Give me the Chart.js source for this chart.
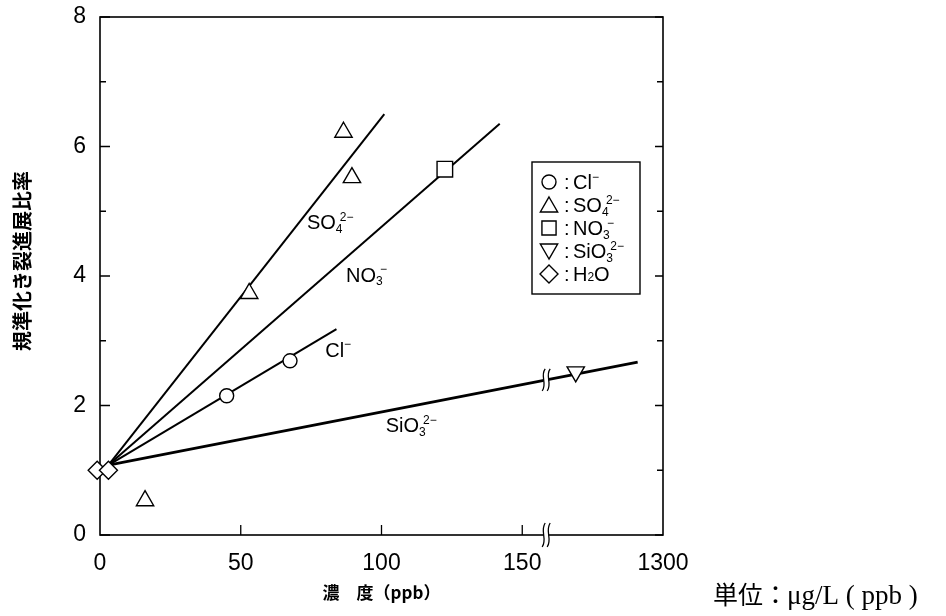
<!DOCTYPE html>
<html>
<head>
<meta charset="utf-8">
<script src="https://cdn.jsdelivr.net/npm/chart.js@4/dist/chart.umd.min.js"></script>
<style>
  html, body { margin: 0; padding: 0; background: #fff; }
</style>
</head>
<body>
<canvas id="crackChart" width="946" height="616"></canvas>
<script>
// measured points
const clX = [45, 67.5], clY = [2.15, 2.69];
const so4X = [16, 53, 86.5, 89.5], so4Y = [0.53, 3.73, 6.22, 5.52];
const no3X = [122.5], no3Y = [5.65];
const sio3X = [169], sio3Y = [2.52];
const h2oX = [-1, 3], h2oY = [1.0, 1.0];

// fitted lines (start, end)
const clFitX = [3, 84], clFitY = [1.08, 3.18];
const so4FitX = [3, 101], so4FitY = [1.08, 6.5];
const no3FitX = [3, 142], no3FitY = [1.08, 6.35];
const sio3FitX = [3, 191], sio3FitY = [1.08, 2.67];

// axes
const xTickValues = [0, 50, 100, 150, 200];
const xTickLabels = ['0', '50', '100', '150', '1300'];
const yTickValues = [0, 2, 4, 6, 8];
const yMinorValues = [1, 3, 5, 7];
const xBreak = 158.5;

// legend / label texts
const legendNames = [
  { base: 'Cl', sup: '−' },
  { base: 'SO', sub: '4', sup: '2−' },
  { base: 'NO', sub: '3', sup: '−' },
  { base: 'SiO', sub: '3', sup: '2−' },
  { base: 'H', sub: '2', tail: 'O' }
];

const pts = (xs, ys) => xs.map((x, i) => ({ x: x, y: ys[i] }));
const FONT = '"Liberation Sans", Arial, sans-serif';

function drawChem(ctx, spec, x, y, size) {
  // y = baseline
  ctx.fillStyle = '#000';
  ctx.textAlign = 'left';
  ctx.textBaseline = 'alphabetic';
  ctx.font = size + 'px ' + FONT;
  ctx.fillText(spec.base, x, y);
  let cx = x + ctx.measureText(spec.base).width;
  const small = Math.round(size * 0.62);
  ctx.font = small + 'px ' + FONT;
  let w = 0;
  if (spec.sub) {
    ctx.fillText(spec.sub, cx, y + (spec.tail ? 0 : size * 0.18));
    w = ctx.measureText(spec.sub).width;
  }
  if (spec.sup) {
    const sx = cx + (spec.sub ? w * 0.6 : 0);
    ctx.fillText(spec.sup, sx, y - size * 0.42);
    w = Math.max(w, sx - cx + ctx.measureText(spec.sup).width);
  }
  cx += w;
  if (spec.tail) {
    ctx.font = size + 'px ' + FONT;
    ctx.fillText(spec.tail, cx, y);
  }
}

function drawBreak(ctx, x, y, h, cover) {
  const g = 2.5;
  ctx.save();
  ctx.fillStyle = '#fff';
  ctx.fillRect(x - g, y - cover, 2 * g, 2 * cover);
  ctx.strokeStyle = '#000';
  ctx.lineWidth = 1.3;
  [-g, g].forEach(function(dx) {
    ctx.beginPath();
    ctx.moveTo(x + dx + 1.5, y - h);
    ctx.bezierCurveTo(x + dx - 4, y - h / 3, x + dx + 4, y + h / 3, x + dx - 1.5, y + h);
    ctx.stroke();
  });
  ctx.restore();
}

// frame + inward ticks
const framePlugin = {
  id: 'frame',
  beforeDatasetsDraw(chart) {
    const { ctx, chartArea: a, scales } = chart;
    ctx.save();
    ctx.strokeStyle = '#000';
    ctx.lineWidth = 1.6;
    ctx.strokeRect(a.left, a.top, a.right - a.left, a.bottom - a.top);
    ctx.lineWidth = 1.3;
    ctx.beginPath();
    yTickValues.concat(yMinorValues).forEach(function(v) {
      const py = scales.y.getPixelForValue(v);
      const major = yTickValues.includes(v);
      ctx.moveTo(a.left, py); ctx.lineTo(a.left + (major ? 10 : 6), py);
      ctx.moveTo(a.right, py); ctx.lineTo(a.right - (major ? 8 : 6), py);
    });
    xTickValues.slice(1, 4).forEach(function(v) {
      const px = scales.x.getPixelForValue(v);
      ctx.moveTo(px, a.bottom); ctx.lineTo(px, a.bottom - 10);
    });
    ctx.stroke();
    ctx.restore();
  },
  afterDatasetsDraw(chart) {
    const { ctx, chartArea: a, scales } = chart;
    const bx = scales.x.getPixelForValue(xBreak);
    drawBreak(ctx, bx, a.bottom, 12, 3);
    const t = (xBreak - sio3FitX[0]) / (sio3FitX[1] - sio3FitX[0]);
    const by = scales.y.getPixelForValue(sio3FitY[0] + t * (sio3FitY[1] - sio3FitY[0]));
    drawBreak(ctx, bx, by, 11, 4);
  }
};

// labels on lines, legend, titles
const textPlugin = {
  id: 'texts',
  afterDraw(chart) {
    const { ctx, scales } = chart;
    const X = v => scales.x.getPixelForValue(v);
    const Y = v => scales.y.getPixelForValue(v);
    ctx.save();
    // labels next to lines
    drawChem(ctx, legendNames[1], X(73.5), Y(4.83) + 7, 20);
    drawChem(ctx, legendNames[2], X(87.4), Y(4.02) + 7, 20);
    drawChem(ctx, legendNames[0], X(80), Y(2.86) + 7, 20);
    drawChem(ctx, legendNames[3], X(101.5), Y(1.70) + 7, 20);

    // legend box
    ctx.strokeStyle = '#000';
    ctx.lineWidth = 1.4;
    ctx.strokeRect(532, 162, 108, 132);
    const ds = chart.data.datasets.filter(d => d.inLegend);
    ds.forEach(function(d, i) {
      const cy = 182 + i * 23;
      ctx.fillStyle = '#fff';
      ctx.strokeStyle = '#000';
      ctx.lineWidth = 1.4;
      Chart.helpers.drawPoint(ctx, {
        pointStyle: d.pointStyle, radius: d.legendRadius,
        rotation: d.rotation || 0, borderWidth: 1.4
      }, 549, cy + (d.pointStyle === 'triangle' ? (d.rotation ? -2 : 2) : 0));
      ctx.fillStyle = '#000';
      ctx.font = '20px ' + FONT;
      ctx.fillText(':', 564, cy + 7);
      drawChem(ctx, legendNames[i], 573, cy + 7, 20);
    });

    // y axis title
    ctx.save();
    ctx.translate(22, 261);
    ctx.rotate(-Math.PI / 2);
    ctx.font = 'bold 20px "Noto Sans CJK JP", sans-serif';
    ctx.textAlign = 'center';
    ctx.textBaseline = 'middle';
    ctx.fillStyle = '#000';
    ctx.fillText('規準化き裂進展比率', 0, 0);
    ctx.restore();

    // unit note
    ctx.fillStyle = '#000';
    ctx.textAlign = 'left';
    ctx.textBaseline = 'alphabetic';
    ctx.font = '25px "Noto Sans CJK JP", sans-serif';
    ctx.fillText('単位：', 713, 604);
    ctx.font = '27px "Liberation Serif", "Times New Roman", serif';
    ctx.fillText('μg/L ( ppb )', 787, 604);
    ctx.restore();
  }
};

const markerBase = {
  type: 'scatter',
  showLine: false,
  borderColor: '#000',
  backgroundColor: '#fff',
  pointBorderWidth: 1.4,
  clip: false,
  order: 1
};
const fitBase = {
  type: 'line',
  borderColor: '#000',
  borderWidth: 2,
  pointRadius: 0,
  fill: false,
  tension: 0,
  order: 2
};

new Chart(document.getElementById('crackChart'), {
  type: 'scatter',
  data: {
    datasets: [
      Object.assign({}, fitBase, { label: 'Cl fit', data: pts(clFitX, clFitY) }),
      Object.assign({}, fitBase, { label: 'SO4 fit', data: pts(so4FitX, so4FitY) }),
      Object.assign({}, fitBase, { label: 'NO3 fit', data: pts(no3FitX, no3FitY) }),
      Object.assign({}, fitBase, { label: 'SiO3 fit', data: pts(sio3FitX, sio3FitY), borderWidth: 2.8 }),
      Object.assign({}, markerBase, { label: 'Cl', data: pts(clX, clY), inLegend: true,
        pointStyle: 'circle', pointRadius: 7, legendRadius: 7 }),
      Object.assign({}, markerBase, { label: 'SO4', data: pts(so4X, so4Y), inLegend: true,
        pointStyle: 'triangle', pointRadius: 10, legendRadius: 10 }),
      Object.assign({}, markerBase, { label: 'NO3', data: pts(no3X, no3Y), inLegend: true,
        pointStyle: 'rect', pointRadius: 11, legendRadius: 10 }),
      Object.assign({}, markerBase, { label: 'SiO3', data: pts(sio3X, sio3Y), inLegend: true,
        pointStyle: 'triangle', pointRotation: 180, rotation: 180, pointRadius: 10, legendRadius: 10 }),
      Object.assign({}, markerBase, { label: 'H2O', data: pts(h2oX, h2oY), inLegend: true,
        pointStyle: 'rectRot', pointRadius: 9, legendRadius: 9 })
    ]
  },
  options: {
    responsive: false,
    animation: false,
    layout: { padding: { top: 17, right: 283, bottom: 0, left: 0 } },
    plugins: {
      legend: { display: false },
      tooltip: { enabled: false }
    },
    scales: {
      x: {
        type: 'linear',
        min: 0,
        max: 200,
        afterBuildTicks: s => { s.ticks = xTickValues.map(v => ({ value: v })); },
        afterFit: s => { s.height = 81; s.paddingLeft = 0; s.paddingRight = 0; },
        grid: { display: false, drawTicks: false },
        border: { display: false },
        ticks: {
          color: '#000',
          padding: 15,
          maxRotation: 0,
          font: { size: 23, family: FONT },
          callback: v => xTickLabels[xTickValues.indexOf(v)]
        },
        title: {
          display: true,
          text: '濃　度（ppb）',
          color: '#000',
          padding: { top: 0, bottom: 13 },
          font: { size: 17, weight: 'bold', family: '"Noto Sans CJK JP", sans-serif' }
        }
      },
      y: {
        min: 0,
        max: 8,
        afterBuildTicks: s => { s.ticks = yTickValues.map(v => ({ value: v })); },
        afterFit: s => { s.width = 100; s.paddingTop = 0; s.paddingBottom = 0; },
        grid: { display: false, drawTicks: false },
        border: { display: false },
        ticks: {
          color: '#000',
          padding: 14,
          font: { size: 23, family: FONT }
        }
      }
    }
  },
  plugins: [framePlugin, textPlugin]
});
</script>
</body>
</html>
